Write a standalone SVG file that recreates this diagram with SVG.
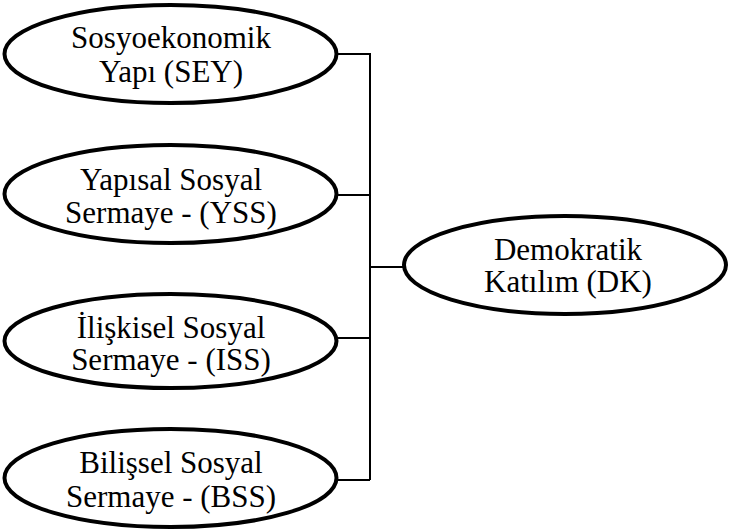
<svg xmlns="http://www.w3.org/2000/svg" width="730" height="530" viewBox="0 0 730 530">
<style>
.node ellipse{fill:#fff;stroke:#000;stroke-width:4}
.node text{font-family:"Liberation Serif","Times New Roman",serif;font-size:31px;fill:#000;text-anchor:middle}
.conn{fill:none;stroke:#000;stroke-width:2}
</style>
<rect width="730" height="530" fill="#fff"/>
<g id="connectors" class="conn">
<path d="M336 54H370V480"/>
<path d="M336 195H370"/>
<path d="M336 338H370"/>
<path d="M336 480H370"/>
<path d="M370 267H404"/>
</g>
<g id="SEY" class="node">
<ellipse cx="170.5" cy="54" rx="166" ry="49"/>
<text x="171" y="48">Sosyoekonomik</text>
<text x="171" y="82">Yapı (SEY)</text>
</g>
<g id="YSS" class="node">
<ellipse cx="170.5" cy="194" rx="166" ry="49"/>
<text x="171" y="190">Yapısal Sosyal</text>
<text x="171" y="223">Sermaye - (YSS)</text>
</g>
<g id="ISS" class="node">
<ellipse cx="170.5" cy="341" rx="166" ry="47"/>
<text x="171" y="338">İlişkisel Sosyal</text>
<text x="171" y="370">Sermaye - (ISS)</text>
</g>
<g id="BSS" class="node">
<ellipse cx="170.5" cy="478" rx="166" ry="49"/>
<text x="171" y="473">Bilişsel Sosyal</text>
<text x="171" y="507">Sermaye - (BSS)</text>
</g>
<g id="DK" class="node">
<ellipse cx="565" cy="265" rx="161" ry="49"/>
<text x="568" y="260">Demokratik</text>
<text x="568" y="292">Katılım (DK)</text>
</g>
</svg>
